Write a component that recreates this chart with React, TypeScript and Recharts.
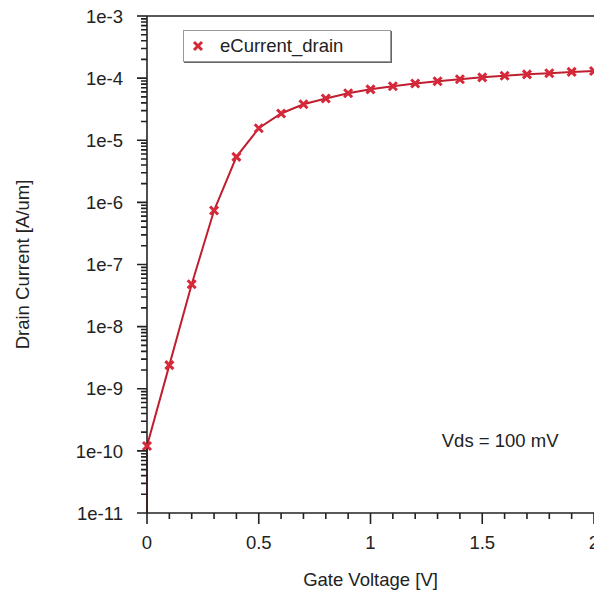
import React from 'react';
import {
  LineChart,
  Line,
  XAxis,
  YAxis,
  ReferenceLine,
  ReferenceDot,
} from 'recharts';

// Gate voltage sweep [V] and drain current [A/um]
// (first point only carries the line down to the axis floor, no marker)
const gateVoltage = [0, 0, 0.1, 0.2, 0.3, 0.4, 0.5, 0.6, 0.7, 0.8, 0.9, 1.0, 1.1, 1.2, 1.3, 1.4, 1.5, 1.6, 1.7, 1.8, 1.9, 2.0];
const drainCurrent = [
  1e-11, 1.2e-10, 2.4e-9, 4.8e-8, 7.4e-7, 5.4e-6, 1.56e-5, 2.7e-5, 3.8e-5, 4.7e-5, 5.7e-5,
  6.6e-5, 7.4e-5, 8.2e-5, 8.9e-5, 9.6e-5, 1.03e-4, 1.09e-4, 1.15e-4, 1.2e-4, 1.26e-4, 1.3e-4,
];

const yDecades = [1e-11, 1e-10, 1e-9, 1e-8, 1e-7, 1e-6, 1e-5, 1e-4, 1e-3];
const yMinorFactors = [2, 3, 4, 5, 6, 7, 8, 9];
const xMajorTicks = [0, 0.5, 1, 1.5, 2];
const xMinorPerMajor = 4; // 0.1 V steps between the 0.5 V labels

const seriesName = 'eCurrent_drain';
const annotation = { x: 1.58, y: 1.5e-10, text: 'Vds = 100 mV' };

const data = gateVoltage.map((v, i) => ({ vg: v, id: drainCurrent[i] }));

const FONT = '"Liberation Sans", Arial, sans-serif';
const FS = 18.5;
const AXIS = '#222';
const RED = '#d62839';

const CHART_W = 630;
const CHART_H = 593;
const MARGIN = { top: 16, right: 36, left: 0, bottom: 0 };
const Y_AXIS_W = 147;
const X_AXIS_H = 80;
const PLOT_W = CHART_W - MARGIN.left - MARGIN.right - Y_AXIS_W;
const PLOT_H = CHART_H - MARGIN.top - MARGIN.bottom - X_AXIS_H;

const Y_TICK = 10;
const Y_MARGIN = 14;
const X_TICK = 11;
const X_MARGIN = 12;
const MINOR = 6;

// major tick + label, plus the log minor ticks of the decade above it
const YTick = (props: any) => {
  const { x, y, payload } = props;
  const v = payload.value;
  const axisX = x + Y_MARGIN + Y_TICK;
  const h = typeof props.height === 'number' && props.height > 0 ? props.height : PLOT_H;
  const decadePx = h / (yDecades.length - 1);
  const top = v >= yDecades[yDecades.length - 1];
  const ticks = [`M${axisX - Y_TICK},${y}H${axisX}`];
  if (!top) {
    yMinorFactors.forEach(m => {
      const my = y - Math.log10(m) * decadePx;
      ticks.push(`M${axisX - MINOR},${my}H${axisX}`);
    });
  }
  return (
    <g>
      <path d={ticks.join('')} stroke={AXIS} strokeWidth={1.6} fill="none" />
      <text x={x} y={y} dy="0.36em" textAnchor="end" fontSize={FS} fontFamily={FONT} fill="#222">
        {`1e${Math.round(Math.log10(v))}`}
      </text>
    </g>
  );
};

const XTick = (props: any) => {
  const { x, y, payload } = props;
  const v = payload.value;
  const axisY = y - X_MARGIN - X_TICK;
  const w = typeof props.width === 'number' && props.width > 0 ? props.width : PLOT_W;
  const step = w / ((xMajorTicks.length - 1) * (xMinorPerMajor + 1));
  const last = v >= xMajorTicks[xMajorTicks.length - 1];
  const ticks = [`M${x},${axisY}V${axisY + X_TICK}`];
  if (!last) {
    for (let k = 1; k <= xMinorPerMajor; k++) {
      ticks.push(`M${x + k * step},${axisY}V${axisY + MINOR}`);
    }
  }
  return (
    <g>
      <path d={ticks.join('')} stroke={AXIS} strokeWidth={1.6} fill="none" />
      <text x={x} y={y} dy="0.71em" textAnchor="middle" fontSize={FS} fontFamily={FONT} fill="#222">
        {String(v)}
      </text>
    </g>
  );
};

const CrossDot = (props: any) => {
  const { cx, cy, index } = props;
  if (index === 0 || cx == null || cy == null) return <g key={`d-${index}`} />;
  const s = 4;
  return (
    <g key={`d-${index}`}>
      <path d={`M${cx - s},${cy - s}L${cx + s},${cy + s}M${cx - s},${cy + s}L${cx + s},${cy - s}`} stroke={RED} strokeWidth={3} />
    </g>
  );
};

const LegendBox = () => (
  <div
    style={{
      position: 'absolute',
      left: 183,
      top: 30,
      display: 'flex',
      alignItems: 'center',
      width: 208,
      height: 32,
      boxSizing: 'border-box',
      background: '#fff',
      border: '1px solid #999',
      boxShadow: '1px 1px 0 #666',
      fontFamily: FONT,
      fontSize: FS,
      color: '#222',
    }}
  >
    <svg width={36} height={30}>
      <path d="M10,11L18,19M10,19L18,11" stroke={RED} strokeWidth={3} />
    </svg>
    <span>{seriesName}</span>
  </div>
);

export default function App() {
  return (
    <div style={{ position: 'absolute', left: 0, top: 0, width: 594, height: 593, overflow: 'hidden', background: '#fff' }}>
      <LineChart width={CHART_W} height={CHART_H} data={data} margin={MARGIN}>
        <XAxis
          dataKey="vg"
          type="number"
          domain={[0, 2]}
          ticks={xMajorTicks}
          interval={0}
          height={X_AXIS_H}
          tickSize={X_TICK}
          tickMargin={X_MARGIN}
          tickLine={false}
          tick={<XTick />}
          axisLine={{ stroke: AXIS, strokeWidth: 1.6 }}
          label={{ value: 'Gate Voltage [V]', position: 'insideBottom', offset: 7, fontSize: FS, fontFamily: FONT, fill: '#222' }}
        />
        <YAxis
          dataKey="id"
          scale="log"
          domain={[1e-11, 1e-3]}
          allowDataOverflow
          ticks={yDecades}
          interval={0}
          width={Y_AXIS_W}
          tickSize={Y_TICK}
          tickMargin={Y_MARGIN}
          tickLine={false}
          tick={<YTick />}
          axisLine={{ stroke: AXIS, strokeWidth: 1.6 }}
          label={{ value: 'Drain Current [A/um]', angle: -90, position: 'center', dx: -51, fontSize: FS, fontFamily: FONT, fill: '#222' }}
        />
        <ReferenceLine y={1e-3} stroke={AXIS} strokeWidth={1.6} />
        <ReferenceDot
          x={annotation.x}
          y={annotation.y}
          r={0}
          stroke="none"
          label={{ value: annotation.text, position: 'center', fontSize: FS, fontFamily: FONT, fill: '#222' }}
        />
        <Line
          type="linear"
          dataKey="id"
          name={seriesName}
          stroke="#c01f30"
          strokeWidth={2}
          dot={<CrossDot />}
          activeDot={false}
          isAnimationActive={false}
        />
      </LineChart>
      <LegendBox />
    </div>
  );
}
